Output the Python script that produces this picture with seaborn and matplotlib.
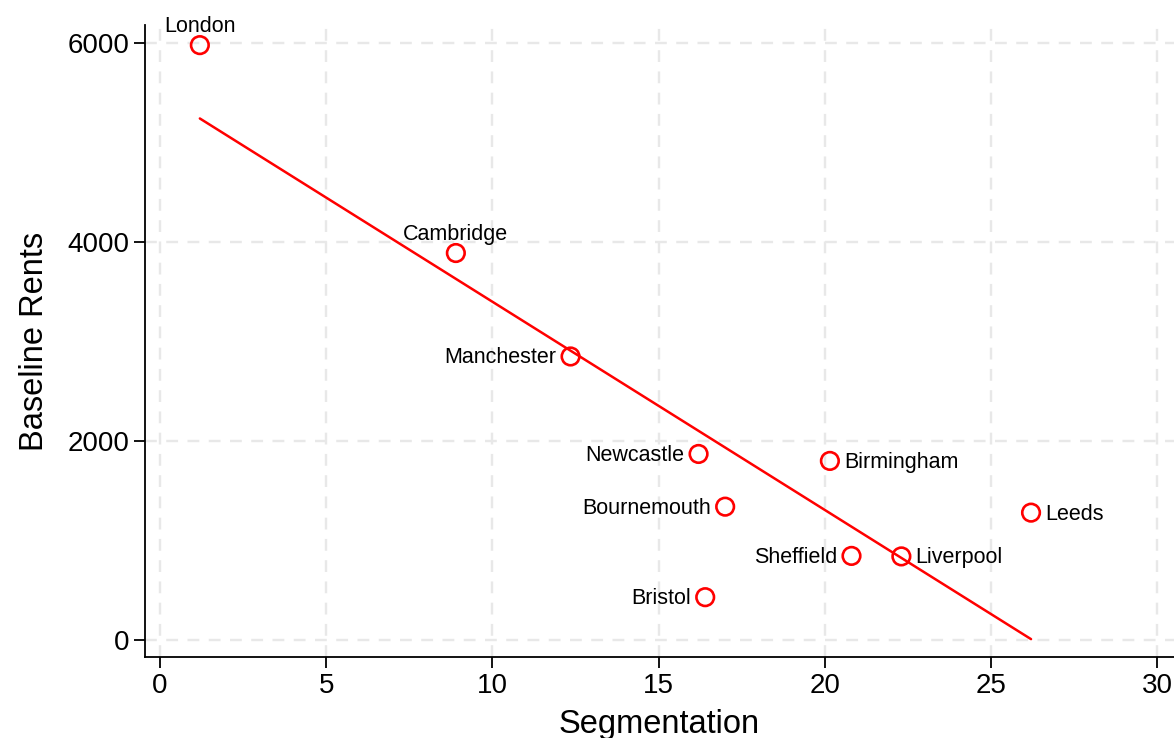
import numpy as np
import pandas as pd
import matplotlib
matplotlib.use("Agg")
import matplotlib.pyplot as plt
import seaborn as sns

cities = ['London', 'Cambridge', 'Manchester', 'Newcastle', 'Birmingham',
          'Bournemouth', 'Leeds', 'Sheffield', 'Liverpool', 'Bristol']
segmentation = [1.2, 8.9, 12.35, 16.2, 20.15, 17.0, 26.2, 20.8, 22.3, 16.4]
rents = [5980, 3890, 2850, 1870, 1800, 1340, 1280, 845, 840, 430]

# where each label sits relative to its point
lado = {'London': 'top', 'Cambridge': 'top', 'Manchester': 'left',
        'Newcastle': 'left', 'Bournemouth': 'left', 'Sheffield': 'left',
        'Bristol': 'left', 'Birmingham': 'right', 'Leeds': 'right',
        'Liverpool': 'right'}

df = pd.DataFrame({'city': cities, 'Segmentation': segmentation, 'Baseline Rents': rents})

sns.set_style('white')
plt.rcParams['font.family'] = ['Liberation Sans', 'DejaVu Sans']
plt.rcParams['text.color'] = 'black'
plt.rcParams['axes.labelcolor'] = 'black'
plt.rcParams['xtick.color'] = 'black'
plt.rcParams['ytick.color'] = 'black'

fig = plt.figure(figsize=(11.74, 7.38), dpi=100)
ax = fig.add_axes([0.1235, 0.1098, 0.8765, 0.856])

ax.grid(True, color='#e8e8e8', linestyle=(0, (5, 4)), linewidth=1.7)
ax.set_axisbelow(True)

sns.regplot(data=df, x='Segmentation', y='Baseline Rents', ci=None, scatter=False,
            color='red', line_kws={'linewidth': 1.8}, truncate=True, ax=ax)
sns.scatterplot(data=df, x='Segmentation', y='Baseline Rents', s=160, marker='o',
                facecolors='none', edgecolor='red', linewidth=1.9, ax=ax, zorder=3)

for _, r in df.iterrows():
    pos = lado[r['city']]
    if pos == 'top':
        off, ha, va = (0, 6), 'center', 'bottom'
    elif pos == 'left':
        off, ha, va = (-10, -1), 'right', 'center'
    else:
        off, ha, va = (10, -1), 'left', 'center'
    ax.annotate(r['city'], (r['Segmentation'], r['Baseline Rents']), xytext=off,
                textcoords='offset points', ha=ha, va=va, fontsize=15.5)

ax.set_xlim(-0.45, 30.5)
ax.set_ylim(-171, 6180)
ax.set_xticks(range(0, 31, 5))
ax.set_yticks([0, 2000, 4000, 6000])
ax.set_xlabel('Segmentation', fontsize=23.5)
ax.set_ylabel('Baseline Rents', fontsize=23.5)
ax.tick_params(axis='both', labelsize=20, length=8, width=1.3, direction='out',
               bottom=True, left=True, color='black')
ax.xaxis.labelpad = 7
ax.yaxis.labelpad = 12
sns.despine(ax=ax)
for s in ['left', 'bottom']:
    ax.spines[s].set_color('black')
    ax.spines[s].set_linewidth(1.3)

fig.savefig('out.png', dpi=100)
